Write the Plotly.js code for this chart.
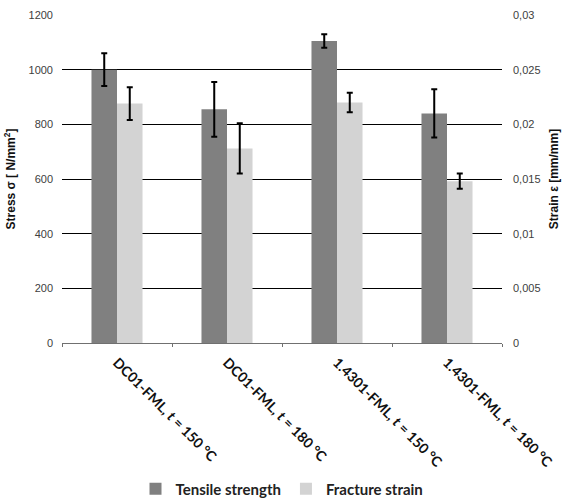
<!DOCTYPE html>
<html>
<head>
<meta charset="utf-8">
<script src="https://cdn.plot.ly/plotly-3.0.1.min.js"></script>
<style>html,body{margin:0;padding:0;background:#fff;}#chart{width:562px;height:498px;}</style>
</head>
<body>
<div id="chart"></div>
<script>
const categories = ["DC01-FML, <i>t</i> = 150 °C", "DC01-FML, <i>t</i> = 180 °C", "1.4301-FML, <i>t</i> = 150 °C", "1.4301-FML, <i>t</i> = 180 °C"];
const tensileStrength = [1000, 855, 1105, 840];
const tensileError = [60, 100, 25, 88];
const fractureStrain = [0.0219, 0.0178, 0.022, 0.0148];
const fractureError = [0.0015, 0.0023, 0.0009, 0.0007];
const leftTicks = [0, 200, 400, 600, 800, 1000, 1200];
const rightTickVals = [0, 0.005, 0.01, 0.015, 0.02, 0.025, 0.03];
const rightTickText = ["0", "0,005", "0,01", "0,015", "0,02", "0,025", "0,03"];

const traces = [
  {
    type: 'bar', name: 'Tensile strength', x: categories, y: tensileStrength,
    yaxis: 'y', offsetgroup: '1',
    marker: {color: '#808080'},
    error_y: {type: 'data', array: tensileError, visible: true, color: '#000', thickness: 2, width: 3}
  },
  {
    type: 'bar', name: 'Fracture strain', x: categories, y: fractureStrain,
    yaxis: 'y2', offsetgroup: '2',
    marker: {color: '#d3d3d3'},
    error_y: {type: 'data', array: fractureError, visible: true, color: '#000', thickness: 2, width: 3}
  }
];

const layout = {
  width: 562, height: 498,
  margin: {l: 62, r: 60, t: 15, b: 155, autoexpand: false},
  paper_bgcolor: '#fff', plot_bgcolor: '#fff',
  font: {family: 'Liberation Sans, Arial, sans-serif', size: 11, color: '#404040'},
  barmode: 'group', bargap: 0.536, bargroupgap: 0,
  showlegend: true,
  legend: {orientation: 'h', x: 0.5, xanchor: 'center', y: -0.445, yanchor: 'middle',
           font: {family: 'Lato, sans-serif', size: 15, color: '#222', weight: 'bold'},
           itemwidth: 30, tracegroupgap: 0},
  xaxis: {
    type: 'category', tickangle: 45, automargin: false, ticklabelstandoff: 5,
    tickfont: {family: 'Lato, sans-serif', size: 14, color: '#111', weight: 'bold'},
    showline: true, linecolor: '#707070', linewidth: 1,
    ticks: 'outside', tickson: 'boundaries', ticklen: 3, tickcolor: '#707070',
    showgrid: false
  },
  yaxis: {
    range: [0, 1200], tickvals: leftTicks, automargin: false,
    showgrid: true, gridcolor: '#000', gridwidth: 1, zeroline: false, showline: false,
    ticks: '', ticklabelstandoff: 8,
    title: {text: 'Stress σ [ N/mm<sup>2</sup>]', font: {size: 12, color: '#111', weight: 'bold'}, standoff: 10}
  },
  yaxis2: {
    overlaying: 'y', side: 'right', range: [0, 0.03], automargin: false,
    tickvals: rightTickVals, ticktext: rightTickText,
    showgrid: false, zeroline: false, showline: false, ticks: '', ticklabelstandoff: 10,
    title: {text: 'Strain ε [mm/mm]', font: {size: 12, color: '#111', weight: 'bold'}, standoff: 10}
  }
};

Plotly.newPlot('chart', traces, layout, {displayModeBar: false, staticPlot: true});
</script>
</body>
</html>
